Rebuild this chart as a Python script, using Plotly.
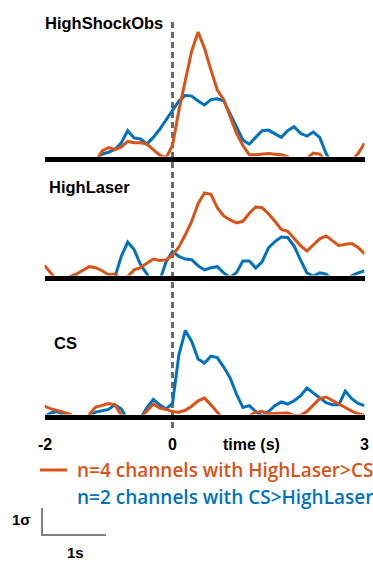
import plotly.graph_objects as go

# ---------------- data (sigma units, time in s) ----------------
TIME_S = [round(-2.0 + 0.1 * i, 1) for i in range(51)]

HSO_HIGHLASER = [-0.3, -0.3, -0.3, -0.3, -0.3, -0.3, -0.3, -0.3, -0.1, 0.3,
                 0.42, 0.35, 0.45, 0.65, 0.6, 0.6, 0.55, 0.35, 0.14, 0.05,
                 0.5, 1.8, 2.9, 4.0, 4.7, 4.1, 3.3, 2.55, 2.2, 1.6,
                 0.95, 0.5, 0.16, 0.16, 0.17, 0.2, 0.18, 0.16, 0.08, -0.2,
                 -0.1, 0.02, 0.22, 0.18, -0.1, -0.3, -0.3, -0.3, -0.05, 0.2,
                 0.58]
HSO_CS = [-0.3, -0.3, -0.3, -0.3, -0.3, -0.3, -0.3, -0.3, -0.1, 0.18,
          0.25, 0.35, 0.6, 1.05, 0.78, 0.74, 0.55, 0.8, 1.1, 1.45,
          1.8, 2.15, 2.36, 2.33, 2.15, 2.0, 2.2, 2.23, 2.15, 1.7,
          1.2, 0.7, 0.55, 0.8, 1.05, 1.07, 0.95, 0.8, 1.05, 1.2,
          0.95, 0.85, 1.0, 0.8, 0.2, -0.2, -0.3, -0.3, -0.3, -0.3,
          -0.3]

HL_HIGHLASER = [0.46, 0.15, -0.1, -0.1, 0.05, 0.15, 0.3, 0.42, 0.38, 0.27,
                0.12, 0.15, -0.05, 0.05, 0.3, 0.38, 0.55, 0.7, 0.65, 0.67,
                0.85, 1.15, 1.6, 2.1, 2.75, 3.15, 3.1, 2.6, 2.3, 2.15,
                2.04, 2.1, 2.4, 2.63, 2.6, 2.38, 2.1, 1.8, 1.73, 1.45,
                1.2, 1.0, 1.22, 1.45, 1.56, 1.38, 1.2, 1.25, 1.28, 1.13,
                0.9]
HL_CS = [-0.3, -0.3, -0.3, -0.3, 0.06, 0.06, -0.3, -0.3, -0.3, -0.3,
         -0.3, 0.03, 0.8, 1.33, 1.05, 0.5, 0.15, -0.2, -0.1, 0.6,
         0.98, 0.8, 0.7, 0.68, 0.45, 0.3, 0.38, 0.42, 0.19, 0.02,
         0.2, 0.63, 0.63, 0.37, 0.6, 1.12, 1.35, 1.52, 1.5, 1.18,
         0.67, 0.19, 0.06, 0.19, 0.14, -0.05, -0.3, -0.1, 0.08, 0.19,
         0.26]

CS_HIGHLASER = [0.4, 0.3, 0.24, 0.17, 0.1, -0.2, -0.3, 0.1, 0.37, 0.43,
                0.5, 0.45, 0.05, -0.3, -0.3, -0.05, 0.22, 0.48, 0.33, 0.28,
                0.2, 0.18, 0.25, 0.4, 0.6, 0.7, 0.45, 0.15, -0.1, -0.3,
                -0.3, -0.1, 0.05, 0.18, 0.2, 0.12, 0.13, 0.14, 0.15, 0.06,
                0.06, 0.2, 0.45, 0.68, 0.74, 0.62, 0.48, 0.35, 0.22, 0.12,
                0.07]
CS_CS = [0.02, 0.15, 0.2, 0.08, -0.2, -0.3, -0.2, 0.05, 0.18, 0.22,
         0.28, 0.45, 0.3, -0.1, -0.3, -0.05, 0.35, 0.65, 0.45, 0.3,
         0.5, 2.3, 3.2, 2.8, 2.15, 2.0, 2.25, 2.2, 1.85, 1.45,
         0.85, 0.35, 0.42, 0.2, 0.04, 0.2, 0.42, 0.56, 0.48, 0.6,
         0.78, 1.07, 0.9, 0.72, 0.53, 0.45, 0.45, 0.96, 0.68, 0.5,
         0.42]

PANEL_NAMES = ["HighShockObs", "HighLaser", "CS"]
PANEL_HIGHLASER = [HSO_HIGHLASER, HL_HIGHLASER, CS_HIGHLASER]
PANEL_CS = [HSO_CS, HL_CS, CS_CS]
TICK_VALUES = [-2, 0, 3]
TICK_LABELS = ["-2", "0", "3"]
X_LABEL = "time (s)"
X_LABEL_AT = 1.23
EVENT_T = 0
LEGEND_LABELS = ["n=4 channels with HighLaser>CS",
                 "n=2 channels with CS>HighLaser"]
SCALE_S = 1
SCALE_SIGMA = 1

# ---------------- layout constants (pixels) ----------------
W, H = 373, 562
PX_PER_S = 64.0
PX_PER_SIG = 27.0
T0_PX = 172.5
BASE_LW = 5
BASELINES_PX = [159, 278, 417]
TOPS_PX = [12, 168, 300]
TITLE_POS_PX = [(43, 23), (47, 187), (52, 343)]
ORANGE = "#D95319"
BLUE = "#0072BD"


def fy(py):
    return 1 - py / H


def fx(px):
    return px / W


x_dom = [fx(T0_PX + TICK_VALUES[0] * PX_PER_S), fx(T0_PX + TICK_VALUES[-1] * PX_PER_S)]

fig = go.Figure()
layout = dict(
    width=W, height=H,
    margin=dict(l=0, r=0, t=0, b=0),
    paper_bgcolor="white", plot_bgcolor="rgba(0,0,0,0)",
    showlegend=False,
)

for i in range(3):
    xs = "" if i == 0 else str(i + 1)
    b, top = BASELINES_PX[i], TOPS_PX[i]
    half = BASE_LW / 2
    layout["xaxis" + xs] = dict(
        domain=x_dom, range=[TICK_VALUES[0], TICK_VALUES[-1]], anchor="y" + xs,
        showline=True, linecolor="black", linewidth=BASE_LW,
        showgrid=False, zeroline=False, showticklabels=False, ticks="",
    )
    layout["yaxis" + xs] = dict(
        domain=[fy(b - half), fy(top)], anchor="x" + xs,
        range=[half / PX_PER_SIG, (b - top) / PX_PER_SIG],
        visible=False, showgrid=False, zeroline=False,
    )
    fig.add_trace(go.Scatter(x=TIME_S, y=PANEL_CS[i], mode="lines",
                             line=dict(color=BLUE, width=3),
                             xaxis="x" + xs, yaxis="y" + xs, hoverinfo="skip"))
    fig.add_trace(go.Scatter(x=TIME_S, y=PANEL_HIGHLASER[i], mode="lines",
                             line=dict(color=ORANGE, width=3),
                             xaxis="x" + xs, yaxis="y" + xs, hoverinfo="skip"))

# scale bar axes (whole figure, same px/unit scales)
SB_BASE_PX = 535
SB_LEFT_PX = 42
layout["xaxis4"] = dict(domain=[0, 1], range=[-T0_PX / PX_PER_S, (W - T0_PX) / PX_PER_S],
                        anchor="y4", visible=False)
layout["yaxis4"] = dict(domain=[0, 1], range=[(SB_BASE_PX - H) / PX_PER_SIG, SB_BASE_PX / PX_PER_SIG],
                        anchor="x4", visible=False)
sb_x = (SB_LEFT_PX - T0_PX) / PX_PER_S
fig.add_trace(go.Scatter(x=[sb_x, sb_x, sb_x + SCALE_S], y=[SCALE_SIGMA, 0, 0],
                         mode="lines", line=dict(color="#808080", width=2),
                         xaxis="x4", yaxis="y4", hoverinfo="skip"))

fig.update_layout(**layout)

# dashed event line
fig.add_shape(type="line", xref="x", yref="paper", x0=EVENT_T, x1=EVENT_T,
              y0=fy(428), y1=fy(19), layer="below",
              line=dict(color="#6a6a6a", width=3, dash="6px,4px"))

BOLD = dict(family="Liberation Sans, Arial", color="black", weight=700)

for name, (px, py) in zip(PANEL_NAMES, TITLE_POS_PX):
    fig.add_annotation(text=name, xref="paper", yref="paper", x=fx(px), y=fy(py),
                       xanchor="left", yanchor="middle", showarrow=False,
                       font=dict(size=16.5, **BOLD))

for v, lab in zip(TICK_VALUES, TICK_LABELS):
    fig.add_annotation(text=lab, xref="x3", yref="paper", x=v, y=fy(444),
                       xanchor="center", yanchor="middle", showarrow=False,
                       font=dict(size=16, **BOLD))
fig.add_annotation(text=X_LABEL, xref="x3", yref="paper", x=X_LABEL_AT, y=fy(444),
                   xanchor="center", yanchor="middle", showarrow=False,
                   font=dict(size=16, **BOLD))

# legend
fig.add_shape(type="line", xref="paper", yref="paper", x0=fx(40), x1=fx(67),
              y0=fy(470), y1=fy(470), line=dict(color=ORANGE, width=3))
for lab, col, py in zip(LEGEND_LABELS, [ORANGE, BLUE], [470, 497]):
    fig.add_annotation(text=lab, xref="paper", yref="paper", x=fx(75), y=fy(py),
                       xanchor="left", yanchor="middle", showarrow=False,
                       font=dict(family="Open Sans", size=19, color=col, weight=600))

fig.add_annotation(text="1σ", xref="paper", yref="paper", x=fx(21), y=fy(519),
                   xanchor="center", yanchor="middle", showarrow=False,
                   font=dict(size=15, **BOLD))
fig.add_annotation(text="1s", xref="paper", yref="paper", x=fx(75), y=fy(552),
                   xanchor="center", yanchor="middle", showarrow=False,
                   font=dict(size=15, **BOLD))

fig.write_html("out.html",
               config={"displayModeBar": False},
               post_script="document.body.style.margin='0px';document.body.style.overflow='hidden';")
